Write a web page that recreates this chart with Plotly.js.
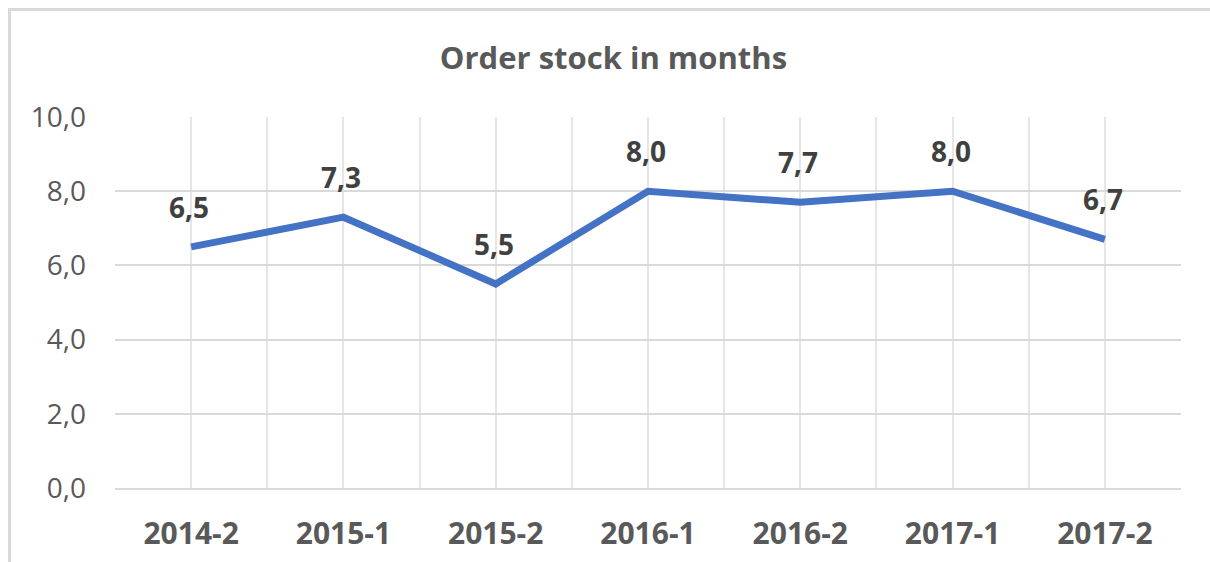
<!DOCTYPE html>
<html>
<head>
<meta charset="utf-8">
<script src="https://cdn.plot.ly/plotly-3.0.1.min.js"></script>
<style>
  html, body { margin: 0; padding: 0; background: #fff; overflow: hidden; }
  #frame { position: absolute; left: 8px; top: 8px; width: 1400px; height: 800px;
           border-left: 3px solid #d9d9d9; border-top: 3px solid #d9d9d9; box-sizing: border-box; }
  #chart { position: absolute; left: 0; top: 0; width: 1210px; height: 562px; }
</style>
</head>
<body>
<div id="frame"></div>
<div id="chart"></div>
<script>
const categories = ["2014-2", "2015-1", "2015-2", "2016-1", "2016-2", "2017-1", "2017-2"];
const orderStock = [6.5, 7.3, 5.5, 8.0, 7.7, 8.0, 6.7];
const yTicks = [0, 2, 4, 6, 8, 10];
const titleText = "Order stock in months";

const idx = categories.map((c, i) => i);
// gridlines at category centres and boundaries
const gridVals = [];
const gridText = [];
for (let i = -0.5; i <= categories.length - 0.5 + 1e-9; i += 0.5) {
  gridVals.push(i);
  const k = Math.round(i);
  gridText.push(Math.abs(i - k) < 1e-9 ? categories[k] : "");
}

const fmt = v => v.toFixed(1).replace(".", ",");

const trace = {
  x: idx,
  y: orderStock,
  type: "scatter",
  mode: "lines",
  line: { color: "#4472C4", width: 7 },
  hoverinfo: "skip"
};

const annotations = idx.map((i, n) => ({
  x: i, y: orderStock[n], xref: "x", yref: "y",
  text: fmt(orderStock[n]), showarrow: false, yshift: 40, xshift: -2,
  font: { family: "Open Sans, sans-serif", size: 28, color: "#404040", weight: "bold" }
}));

const layout = {
  width: 1210, height: 562,
  margin: { l: 115, r: 29, t: 117, b: 74 },
  paper_bgcolor: "rgba(0,0,0,0)",
  plot_bgcolor: "#fff",
  separators: ",.",
  showlegend: false,
  title: {
    text: "<b>" + titleText + "</b>",
    x: 0.507, xanchor: "center", y: 0.897, yanchor: "middle",
    font: { family: "Open Sans, sans-serif", size: 31, color: "#595959" }
  },
  xaxis: {
    range: [-0.5, categories.length - 0.5],
    tickmode: "array", tickvals: gridVals, ticktext: gridText,
    showgrid: true, gridcolor: "#e6e6e6", gridwidth: 2,
    zeroline: false, showline: true, linecolor: "#d9d9d9", linewidth: 2,
    ticks: "", ticklabelstandoff: 18,
    tickfont: { family: "Open Sans, sans-serif", size: 30, color: "#595959", weight: "bold" },
    fixedrange: true
  },
  yaxis: {
    range: [0, 10],
    tickmode: "array", tickvals: yTicks, ticktext: yTicks.map(fmt),
    showgrid: true, gridcolor: "#d9d9d9", gridwidth: 2,
    zeroline: false, showline: false,
    ticks: "", ticklabelstandoff: 28,
    tickfont: { family: "Open Sans, sans-serif", size: 28, color: "#595959" },
    fixedrange: true
  },
  annotations: annotations
};

Plotly.newPlot("chart", [trace], layout, { displayModeBar: false, staticPlot: true });
</script>
</body>
</html>
